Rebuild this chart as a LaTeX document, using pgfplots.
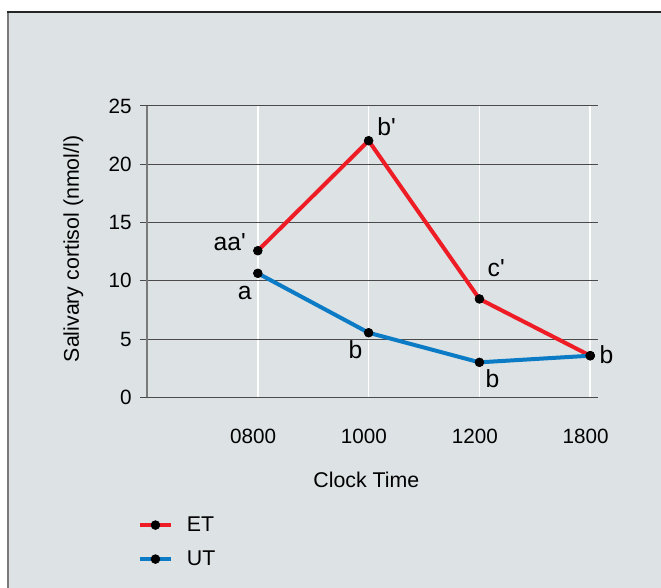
\documentclass[border=0pt]{standalone}
\usepackage{fontspec}
\setmainfont{Liberation Sans}
\usepackage{pgfplots}
\pgfplotsset{compat=1.18}
\definecolor{bg}{HTML}{DDE2E5}
\definecolor{etred}{HTML}{EE1C25}
\definecolor{utblue}{HTML}{0A7BC4}
\definecolor{gridc}{HTML}{4A4A4A}
\definecolor{axisc}{HTML}{7A7A7A}
\begin{document}
\begin{tikzpicture}[x=1pt,y=1pt]
\useasboundingbox (0,0) rectangle (495.75,-441);
\fill[white] (0,0) rectangle (495.75,-441);
\fill[bg] (6,-9) rectangle (495.75,-441);
\draw[line width=1.5pt, color=axisc] (6.2,-441) -- (6.2,-9);
\draw[line width=1.2pt, color=black!85] (5.5,-9) -- (495.75,-9);
\begin{axis}[
  at={(110.25pt,-297.975pt)}, anchor=south west,
  scale only axis, width=338.25pt, height=218.5pt,
  xmin=-1, xmax=3.07, ymin=0, ymax=25,
  xtick={0,1,2,3}, xticklabels={0800,1000,1200,1800},
  ytick={0,5,10,15,20,25},
  axis x line*=bottom, axis y line*=left,
  x axis line style={draw=none},
  y axis line style={-, draw=axisc, line width=1.5pt},
  tick align=outside, major tick length=5.25pt,
  xtick style={draw=none},
  ytick style={draw=gridc, line width=0.75pt},
  ymajorgrids, xmajorgrids,
  y grid style={gridc, line width=0.75pt},
  x grid style={white, line width=1.2pt},
  /pgf/number format/assume math mode=true,
  tick label style={font=\fontsize{15.5}{18}\selectfont},
  yticklabel style={anchor=east, inner sep=0pt, xshift=-6pt},
  xticklabel style={anchor=north, inner sep=0pt, xshift=-3.5pt, yshift=-18.75pt},
  xlabel={Clock Time},
  ylabel={Salivary cortisol (nmol/l)},
  label style={font=\fontsize{16}{18}\selectfont},
  xlabel style={at={(axis cs:1,0)}, anchor=north, inner sep=0pt, xshift=-1.7pt, yshift=-55.8pt},
  ylabel style={at={(axis description cs:-0.1508,0.509)}, anchor=base, rotate=0, inner sep=0pt},
  legend style={at={(-0.02,-0.41)}, anchor=north west, draw=none, fill=none,
    inner sep=0pt, outer sep=0pt, row sep=13pt, column sep=10.5pt,
    font=\fontsize{16}{18}\selectfont, nodes={inner sep=0pt}},
  legend cell align=left,
  legend image code/.code={\draw[mark repeat=2, mark phase=2] plot coordinates {(0pt,0pt)(11.6pt,0pt)(23.25pt,0pt)};},
  every axis plot/.append style={line width=3pt, mark=*, mark size=3.3pt,
    mark options={solid, fill=black, draw=black, line width=0.5pt}},
  clip=false,
]
\addplot[etred] coordinates {(0,12.58) (1,22.02) (2,8.44) (3,3.57)};
\addlegendentry{ET}
\addplot[utblue] coordinates {(0,10.64) (1,5.54) (2,3.0) (3,3.57)};
\addlegendentry{UT}
\begin{scope}[every node/.style={font=\fontsize{18.5}{20}\selectfont, inner sep=0pt}]
\node[anchor=base east, xshift=-8.8pt] at (axis cs:0,12.58) {aa\textquotesingle};
\node[anchor=base east, xshift=-4.5pt, yshift=-19.5pt] at (axis cs:0,10.64) {a};
\node[anchor=base west, xshift=6.3pt, yshift=3.75pt] at (axis cs:1,22.02) {b\textquotesingle};
\node[anchor=base east, xshift=-4.5pt, yshift=-19.5pt] at (axis cs:1,5.54) {b};
\node[anchor=base west, xshift=6pt, yshift=16.5pt] at (axis cs:2,8.44) {c\textquotesingle};
\node[anchor=base west, xshift=4.5pt, yshift=-18.5pt] at (axis cs:2,3.0) {b};
\node[anchor=base west, xshift=6.75pt, yshift=-5.7pt] at (axis cs:3,3.57) {b};
\end{scope}
\end{axis}
\end{tikzpicture}
\end{document}
